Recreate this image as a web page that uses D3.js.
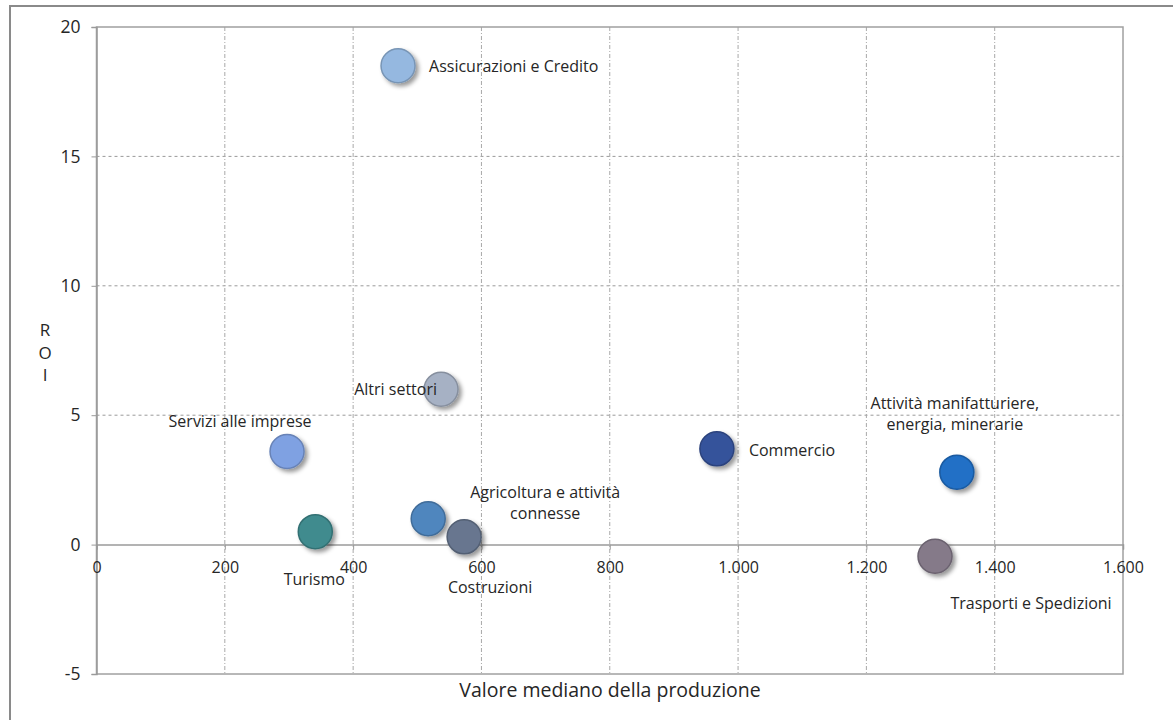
<!DOCTYPE html>
<html>
<head>
<meta charset="utf-8">
<script src="https://cdn.jsdelivr.net/npm/d3@7"></script>
<style>
  body { margin: 0; background: #fff; }
  svg text { font-family: "Open Sans", Lato, sans-serif; fill: #262626; }
</style>
</head>
<body>
<div id="chart"></div>
<script>
// ----------------------------------------------------------------------------
// Data: sectors, median production value (x), ROI (y)
// ----------------------------------------------------------------------------

const sectors = ['Assicurazioni e Credito', 'Altri settori', 'Servizi alle imprese',
  'Commercio', 'Attività manifatturiere, energia, minerarie', 'Agricoltura e attività connesse',
  'Turismo', 'Costruzioni', 'Trasporti e Spedizioni'];
const produzione = [470, 537, 297, 967, 1341, 517, 341, 573, 1307];
const roi = [18.5, 6.0, 3.6, 3.7, 2.8, 1.0, 0.5, 0.3, -0.45];
const colors = ['#95b8e0', '#a6b1c4', '#7fa1e2', '#36539b', '#2070c6', '#4f86be', '#3f8b8e', '#67768f', '#857a89'];

// label text, split in lines
const labelLines = [
  ['Assicurazioni e Credito'], ['Altri settori'], ['Servizi alle imprese'], ['Commercio'],
  ['Attività manifatturiere,', 'energia, minerarie'], ['Agricoltura e attività', 'connesse'],
  ['Turismo'], ['Costruzioni'], ['Trasporti e Spedizioni']
];

const xTicks = [0, 200, 400, 600, 800, 1000, 1200, 1400, 1600];
const yTicks = [-5, 0, 5, 10, 15, 20];

// ----------------------------------------------------------------------------
// Setup
// ----------------------------------------------------------------------------

const W = 1173, H = 720;
const svg = d3.select('#chart').append('svg').attr('width', W).attr('height', H);

const it = d3.formatLocale({decimal: ',', thousands: '.', grouping: [3], currency: ['€', ''], minus: '-'});

const xScale = d3.scaleLinear().domain([0, 1600]).range([96.5, 1123]);
const yScale = d3.scaleLinear().domain([-5, 20]).range([674, 27]);

// outer frame
svg.append('path')
  .attr('d', `M10,${H + 5}V6H${W + 5}`)
  .attr('fill', 'none').attr('stroke', '#8a8a8a').attr('stroke-width', 2);

const defs = svg.append('defs');
const shadow = defs.append('filter').attr('id', 'shadow')
  .attr('x', '-50%').attr('y', '-50%').attr('width', '200%').attr('height', '200%');
shadow.append('feDropShadow').attr('dx', 3).attr('dy', 3).attr('stdDeviation', 2)
  .attr('flood-color', '#000').attr('flood-opacity', 0.4);

// ----------------------------------------------------------------------------
// Grid
// ----------------------------------------------------------------------------

const grid = svg.append('g');
grid.selectAll('.hgrid')
  .data(yTicks.filter(d => d > 0 && d < 20))
  .enter().append('line')
  .attr('x1', xScale(0)).attr('x2', xScale(1600))
  .attr('y1', d => yScale(d)).attr('y2', d => yScale(d))
  .attr('stroke', '#9a9a9a').attr('stroke-dasharray', '3,3');

grid.selectAll('.vgrid')
  .data(xTicks.filter(d => d > 0 && d < 1600))
  .enter().append('line')
  .attr('x1', d => xScale(d)).attr('x2', d => xScale(d))
  .attr('y1', yScale(20)).attr('y2', yScale(-5))
  .attr('stroke', '#a8a8a8').attr('stroke-dasharray', '4,2,1,2');

// plot border
svg.append('rect')
  .attr('x', xScale(0)).attr('y', yScale(20))
  .attr('width', xScale(1600) - xScale(0)).attr('height', yScale(-5) - yScale(20))
  .attr('fill', 'none').attr('stroke', '#a0a0a0').attr('stroke-width', 1.5);

// ----------------------------------------------------------------------------
// Axes
// ----------------------------------------------------------------------------

const yAxis = svg.append('g')
  .attr('transform', `translate(${xScale(0)},0)`)
  .call(d3.axisLeft(yScale).tickValues(yTicks).tickSize(5).tickPadding(11).tickFormat(it.format('d')));
yAxis.select('.domain').attr('stroke', '#9a9a9a').attr('stroke-width', 1.5);
yAxis.selectAll('.tick line').attr('stroke', '#9a9a9a');
yAxis.selectAll('.tick text').style('font-size', '17.5px').attr('fill', '#262626');

const xAxis = svg.append('g')
  .attr('transform', `translate(0,${yScale(0)})`)
  .call(d3.axisBottom(xScale).tickValues(xTicks).tickSize(5).tickPadding(12).tickFormat(it.format(',')));
xAxis.select('.domain').attr('stroke', '#9a9a9a').attr('stroke-width', 1.5);
xAxis.selectAll('.tick line').attr('stroke', '#9a9a9a');
xAxis.selectAll('.tick text').style('font-size', '16px').attr('fill', '#262626');

svg.append('text')
  .text('Valore mediano della produzione')
  .attr('x', 610).attr('y', 697)
  .attr('text-anchor', 'middle')
  .style('font-size', '19.5px');

// stacked "R O I" axis title, one letter per text
['R', 'O', 'I'].forEach((l, i) => {
  svg.append('text')
    .text(l)
    .attr('x', 45).attr('y', 336 + i * 22.5)
    .attr('text-anchor', 'middle')
    .style('font-size', '17px');
});

// ----------------------------------------------------------------------------
// Bubbles
// ----------------------------------------------------------------------------

const points = sectors.map((s, i) => ({name: s, x: produzione[i], y: roi[i], color: colors[i], lines: labelLines[i]}));

svg.append('g').selectAll('circle')
  .data(points).enter().append('circle')
  .attr('cx', d => xScale(d.x))
  .attr('cy', d => yScale(d.y))
  .attr('r', 17)
  .attr('fill', d => d.color)
  .attr('stroke', d => d3.color(d.color).darker(0.6))
  .attr('stroke-width', 1.5)
  .attr('filter', 'url(#shadow)');

// label placement relative to bubble: [dx, dy, anchor]
const labelPos = [
  [31, 6, 'start'], [-4, 6, 'end'], [-47, -24, 'middle'], [32, 7, 'start'],
  [-2, -63, 'middle'], [117, -21, 'middle'], [-1, 53, 'middle'], [26, 56, 'middle'], [96, 53, 'middle']
];

const labels = svg.append('g');
points.forEach((d, i) => {
  const p = labelPos[i];
  const t = labels.append('text')
    .attr('x', xScale(d.x) + p[0])
    .attr('y', yScale(d.y) + p[1])
    .attr('text-anchor', p[2])
    .style('font-size', '16px');
  d.lines.forEach((l, j) => {
    t.append('tspan').attr('x', xScale(d.x) + p[0]).attr('dy', j == 0 ? 0 : 21).text(l);
  });
});
</script>
</body>
</html>
